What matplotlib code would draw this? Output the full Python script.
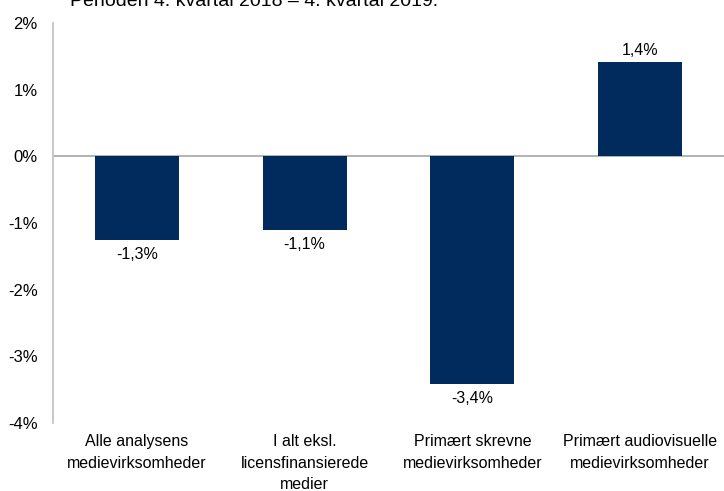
import numpy as np
from matplotlib import pyplot as plt

# data
categories = ['Alle analysens\nmedievirksomheder',
              'I alt eksl.\nlicensfinansierede\nmedier',
              'Primært skrevne\nmedievirksomheder',
              'Primært audiovisuelle\nmedievirksomheder']
values = [-1.26, -1.11, -3.41, 1.41]
yticks = [-4, -3, -2, -1, 0, 1, 2]
title = 'Perioden 4. kvartal 2018 \u2013 4. kvartal 2019.'

plt.rcParams['font.family'] = ['Liberation Sans', 'DejaVu Sans']
plt.rcParams['font.size'] = 11

fig = plt.figure(figsize=(7.24, 4.91), dpi=100)
ax = fig.add_axes([53/724, 1 - 423/491, 1 - 53/724, 400/491])

x = np.arange(len(categories))
ax.bar(x, values, width=0.5, color='#002B5C', zorder=2)

# value labels
for xi, v in zip(x, values):
    lbl = ('%.1f%%' % v).replace('.', ',')
    if v < 0:
        ax.annotate(lbl, (xi, v), xytext=(0, -5), textcoords='offset points',
                    ha='center', va='top', fontsize=11.5)
    else:
        ax.annotate(lbl, (xi, v), xytext=(0, 3), textcoords='offset points',
                    ha='center', va='bottom', fontsize=11.5)

ax.axhline(0, color='#A6A6A6', lw=1.2, zorder=1)
ax.set_xlim(-0.5, 3.5)
ax.set_ylim(-4, 2)
ax.set_yticks(yticks)
ax.set_yticklabels(['%d%%' % t for t in yticks], fontsize=12)
ax.tick_params(axis='y', length=0, pad=11)
ax.tick_params(axis='x', length=0, pad=8)
ax.set_xticks(x)
ax.set_xticklabels(categories, linespacing=1.55, fontsize=11.5)

for s in ['top', 'right', 'bottom']:
    ax.spines[s].set_visible(False)
ax.spines['left'].set_color('#BFBFBF')
ax.spines['left'].set_linewidth(1.2)

fig.text(70/724, 1 - 6/491, title, fontsize=14, ha='left', va='baseline')

fig.savefig('out.png', dpi=100)
